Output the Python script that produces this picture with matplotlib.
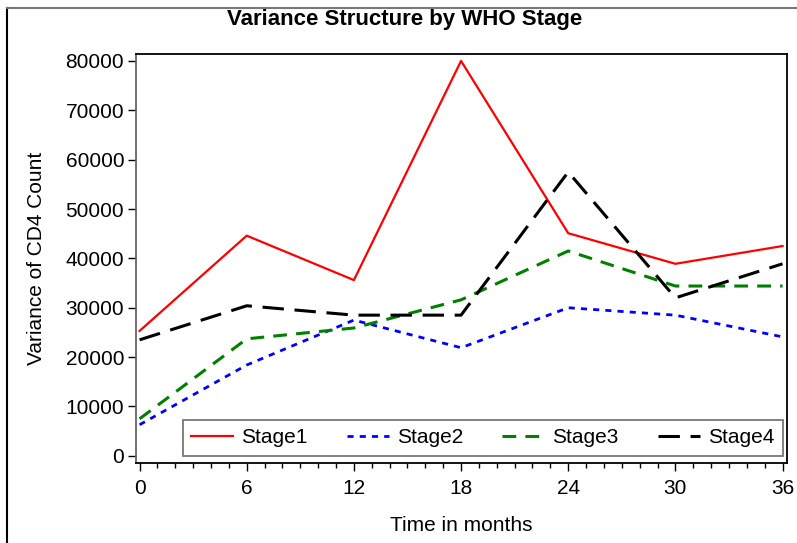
import matplotlib.pyplot as plt
from matplotlib.lines import Line2D
from matplotlib.ticker import MultipleLocator

plt.rcParams['font.family'] = ['Liberation Sans', 'DejaVu Sans']

# Variance of CD4 count at each visit, by WHO stage
months = [0, 6, 12, 18, 24, 30, 36]
stage1 = [25300, 44600, 35600, 80000, 45100, 38900, 42500]
stage2 = [6300, 18400, 27500, 21900, 30000, 28500, 24100]
stage3 = [7500, 23700, 25900, 31600, 41500, 34400, 34400]
stage4 = [23500, 30400, 28500, 28500, 57500, 32000, 38900]

W, H = 797, 543
fig = plt.figure(figsize=(W / 100, H / 100), dpi=100)
ax = fig.add_axes([136 / W, 1 - 463 / H, (787 - 136) / W, (463 - 54) / H])

ax.plot(months, stage1, color='red', lw=1.6, label='Stage1')
ax.plot(months, stage2, color='blue', lw=2, dashes=(2.2, 2.2), label='Stage2')
ax.plot(months, stage3, color='green', lw=2.2, dashes=(4.5, 3), label='Stage3')
ax.plot(months, stage4, color='black', lw=2.2, dashes=(7, 3.5), label='Stage4')

ax.set_xlim(-0.2, 36.25)
ax.set_ylim(-1450, 81400)
ax.xaxis.set_major_locator(MultipleLocator(6))
ax.xaxis.set_minor_locator(MultipleLocator(1))
ax.yaxis.set_major_locator(MultipleLocator(10000))
ax.tick_params(axis='both', which='major', labelsize=15, length=5.5, width=1, direction='out')
ax.tick_params(axis='x', which='minor', length=3.5, width=1, direction='out')
ax.tick_params(axis='x', pad=6)
ax.tick_params(axis='y', pad=3)

for side in ['top', 'right', 'bottom']:
    ax.spines[side].set_color('black')
ax.spines['left'].set_color('#666666')
for sp in ax.spines.values():
    sp.set_linewidth(1.3)

ax.set_xlabel('Time in months', fontsize=15, labelpad=13)
ax.set_ylabel('Variance of CD4 Count', fontsize=15, labelpad=14)
fig.text(405 / W, 1 - 20 / H, 'Variance Structure by WHO Stage', ha='center', va='center',
         fontsize=16, fontweight='bold', family=['Liberation Sans Narrow', 'Liberation Sans'])

leg = ax.legend(loc='lower right', ncol=4, fontsize=15, frameon=True, fancybox=False,
                handlelength=2.0, handletextpad=0.4, columnspacing=1.88,
                borderpad=0.42, borderaxespad=0.0,
                bbox_to_anchor=(1 - 4 / 651, 7 / 409))
leg.get_frame().set_edgecolor('#555555')
leg.get_frame().set_linewidth(1.3)

# outer frame lines along the left and top edges
fig.add_artist(Line2D([7 / W, 7 / W], [0, 1 - 8 / H], color='black', lw=1.5))
fig.add_artist(Line2D([7 / W, 1], [1 - 8 / H, 1 - 8 / H], color='#777777', lw=1.5))

fig.savefig('out.png', dpi=100)
